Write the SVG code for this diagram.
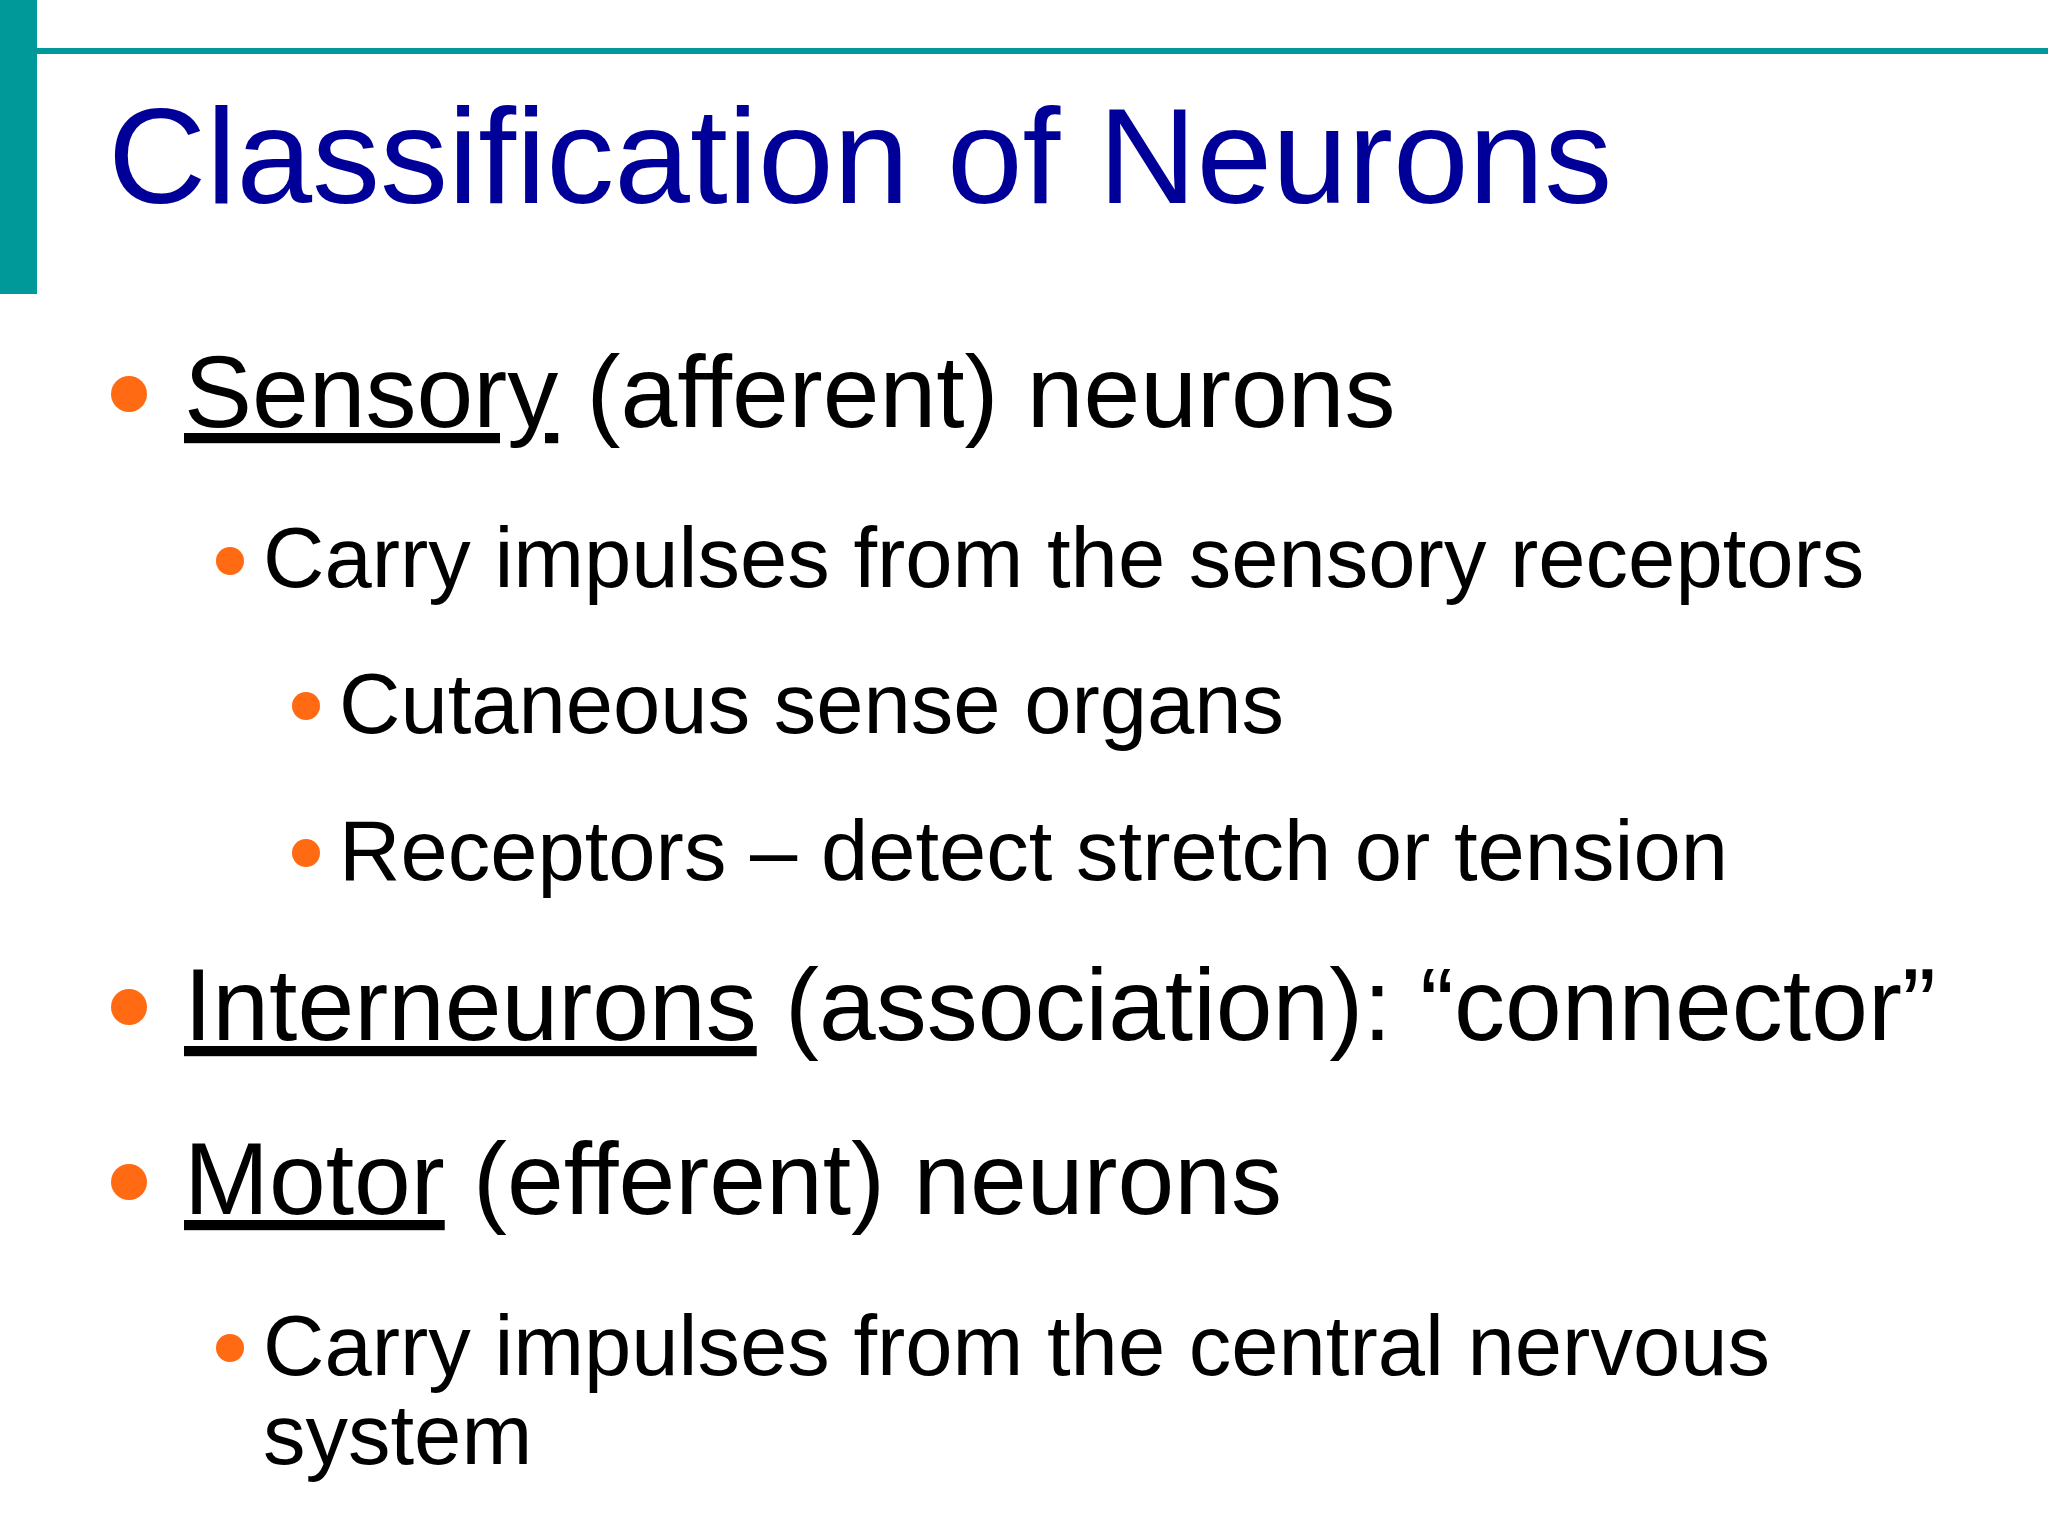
<svg xmlns="http://www.w3.org/2000/svg" width="2048" height="1536" viewBox="0 0 2048 1536">
<style>
text{font-family:"Liberation Sans",Arial,sans-serif;fill:#000}
.t{fill:#000099;font-size:136px}
.l1{font-size:102px}
.l2{font-size:85px}
.dot{fill:#ff6a13}
.u{text-decoration:underline}
</style>
<rect width="2048" height="1536" fill="#fff"/>
<rect x="0" y="0" width="37" height="294" fill="#009999"/>
<rect x="37" y="48" width="2011" height="6" fill="#009999"/>
<g id="title"><text class="t" x="108" y="203">Classification of Neurons</text></g>
<g id="b1"><circle class="dot" cx="129" cy="394" r="18"/><text class="l1" x="184" y="427"><tspan class="u">Sensory</tspan> (afferent) neurons</text></g>
<g id="b1a"><circle class="dot" cx="230" cy="561" r="14"/><text class="l2" x="263" y="587">Carry impulses from the sensory receptors</text></g>
<g id="b1a1"><circle class="dot" cx="306" cy="706" r="14"/><text class="l2" x="339" y="733">Cutaneous sense organs</text></g>
<g id="b1a2"><circle class="dot" cx="306" cy="853" r="14"/><text class="l2" x="339" y="880">Receptors – detect stretch or tension</text></g>
<g id="b2"><circle class="dot" cx="129" cy="1007" r="18"/><text class="l1" x="184" y="1040"><tspan class="u">Interneurons</tspan> (association): “connector”</text></g>
<g id="b3"><circle class="dot" cx="129" cy="1182" r="18"/><text class="l1" x="184" y="1214"><tspan class="u">Motor</tspan> (efferent) neurons</text></g>
<g id="b3a"><circle class="dot" cx="230" cy="1348" r="14"/><text class="l2" x="263" y="1375">Carry impulses from the central nervous</text><text class="l2" x="263" y="1464">system</text></g>
</svg>
